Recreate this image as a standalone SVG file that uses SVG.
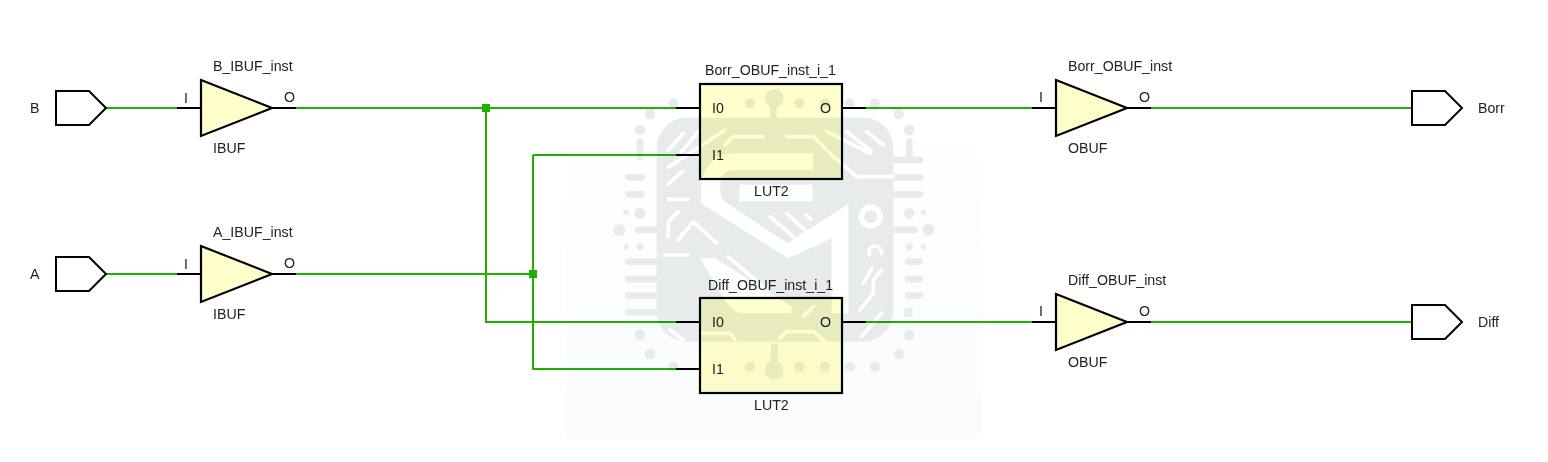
<svg xmlns="http://www.w3.org/2000/svg" width="1548" height="462" viewBox="0 0 1548 462">
<style>
text{font-family:"Liberation Sans",Arial,sans-serif;font-size:14.2px;fill:#222}
.body{fill:#ffffcc;stroke:#000;stroke-width:2.2;stroke-linejoin:miter}
.port{fill:#fff;stroke:#000;stroke-width:2;stroke-linejoin:miter}
.pin{stroke:#000;stroke-width:2;fill:none}
.wire{stroke:#1fb100;stroke-width:2;fill:none}
.dot{fill:#1fb100}
.wm{fill:#e8ebec}
.wl{stroke:#e8ebec;stroke-linecap:round;stroke-linejoin:round;fill:none;stroke-width:20}
.wc{fill:#fff;stroke:none}
.ww{stroke:#fff;stroke-linecap:round;stroke-linejoin:round;fill:none;stroke-width:11}
</style>
<defs>
<linearGradient id="panel" x1="0" y1="0" x2="0" y2="1"><stop offset="0" stop-color="#ffffff"/><stop offset="1" stop-color="#fafbfb"/></linearGradient>
</defs>
<rect width="1548" height="462" fill="#fff"/>
<g id="connectors">
<path class="wire" d="M106 108H177M296 108H676M486 108V322H676M106 274H177M296 274H533M533 155H676M533 155V369H676M866 108H1032M1151 108H1412M866 322H1032M1151 322H1412"/>
<rect class="dot" x="482" y="104" width="8" height="8"/>
<rect class="dot" x="529" y="270" width="8" height="8"/>
</g>
<g id="port-B"><path class="port" d="M56 91H89L106 108L89 125H56Z"/><text x="30" y="113">B</text></g>
<g id="port-A"><path class="port" d="M56 257H89L106 274L89 291H56Z"/><text x="30" y="279">A</text></g>
<g id="B_IBUF_inst">
<path class="pin" d="M177 108H201M272 108H296"/><path class="body" d="M201 80L272 108L201 136Z"/>
<text x="213" y="71">B_IBUF_inst</text><text x="184" y="103">I</text><text x="284" y="102">O</text><text x="213" y="153">IBUF</text>
</g>
<g id="A_IBUF_inst">
<path class="pin" d="M177 274H201M272 274H296"/><path class="body" d="M201 246L272 274L201 302Z"/>
<text x="213" y="237">A_IBUF_inst</text><text x="184" y="269">I</text><text x="284" y="268">O</text><text x="213" y="319">IBUF</text>
</g>
<g id="Borr_OBUF_inst_i_1">
<path class="pin" d="M676 108H700M676 155H700M842 108H866"/><rect class="body" x="700" y="84" width="142" height="95"/>
<text x="705" y="75">Borr_OBUF_inst_i_1</text><text x="712" y="113">I0</text><text x="712" y="160">I1</text><text x="820" y="113">O</text><text x="754" y="196">LUT2</text>
</g>
<g id="Diff_OBUF_inst_i_1">
<path class="pin" d="M676 322H700M676 369H700M842 322H866"/><rect class="body" x="700" y="298" width="142" height="95"/>
<text x="708" y="290">Diff_OBUF_inst_i_1</text><text x="712" y="327">I0</text><text x="712" y="374">I1</text><text x="820" y="327">O</text><text x="754" y="410">LUT2</text>
</g>
<g id="Borr_OBUF_inst">
<path class="pin" d="M1032 108H1056M1127 108H1151"/><path class="body" d="M1056 80L1127 108L1056 136Z"/>
<text x="1068" y="71">Borr_OBUF_inst</text><text x="1039" y="102">I</text><text x="1139" y="102">O</text><text x="1068" y="153">OBUF</text>
</g>
<g id="Diff_OBUF_inst">
<path class="pin" d="M1032 322H1056M1127 322H1151"/><path class="body" d="M1056 294L1127 322L1056 350Z"/>
<text x="1068" y="285">Diff_OBUF_inst</text><text x="1039" y="316">I</text><text x="1139" y="316">O</text><text x="1068" y="367">OBUF</text>
</g>
<g id="port-Borr"><path class="port" d="M1412 91H1445L1462 108L1445 125H1412Z"/><text x="1478" y="113">Borr</text></g>
<g id="port-Diff"><path class="port" d="M1412 305H1445L1462 322L1445 339H1412Z"/><text x="1478" y="327">Diff</text></g>
<g id="watermark" style="mix-blend-mode:multiply">
<rect x="566" y="110" width="416" height="328" fill="url(#panel)"/>
<g transform="translate(600 80) scale(.3333)">
<rect class="wm" x="170" y="113" width="710" height="672" rx="90"/>
<path class="wl" d="M520 60V113M523 800V860M120 185V230M928 185V240M85 292H125M85 343H125M85 545H290M85 597H295M85 647H295M85 697H290M770 240H960M740 292H960M800 343H960M925 545H960M925 597H960M925 647H960M115 450H165M885 450H945"/>
<rect class="wm" x="913" y="685" width="24" height="26"/>
<g class="wm">
<circle cx="523" cy="55" r="28"/><circle cx="523" cy="870" r="28"/>
<circle cx="150" cy="102" r="16"/><circle cx="120" cy="150" r="16"/><circle cx="220" cy="70" r="15"/><circle cx="450" cy="70" r="15"/><circle cx="598" cy="70" r="15"/><circle cx="675" cy="70" r="15"/><circle cx="750" cy="70" r="15"/><circle cx="825" cy="70" r="15"/><circle cx="897" cy="102" r="16"/><circle cx="928" cy="150" r="16"/>
<circle cx="928" cy="400" r="16"/><circle cx="970" cy="397" r="8"/><circle cx="985" cy="450" r="18"/><circle cx="928" cy="500" r="11"/><circle cx="970" cy="500" r="8"/>
<circle cx="58" cy="450" r="18"/><circle cx="78" cy="397" r="8"/><circle cx="120" cy="400" r="17"/><circle cx="78" cy="500" r="8"/><circle cx="120" cy="500" r="10"/>
<circle cx="120" cy="765" r="16"/><circle cx="150" cy="822" r="16"/><circle cx="220" cy="860" r="15"/><circle cx="897" cy="822" r="16"/><circle cx="928" cy="765" r="16"/><circle cx="450" cy="860" r="15"/><circle cx="598" cy="860" r="15"/><circle cx="675" cy="860" r="15"/><circle cx="750" cy="860" r="15"/><circle cx="825" cy="860" r="15"/>
</g>
<path class="wc" d="M640 220H400C340 220 303 270 303 330V370L565 535L695 475V700H745V372L562 490L375 365C358 350 358 310 365 290C372 275 390 270 410 270H640Z"/>
<path class="wc" d="M300 535H345L575 680V700H420C380 690 340 600 300 535Z"/>
<path class="wc" d="M418 314H638V364H418Z"/>
<g class="ww">
<path d="M205 210L250 160M245 215L300 150M205 262L375 150M205 312L250 272M205 358H265M375 195L400 170H490M560 170H640L690 220L770 290H880M680 155L810 220M740 155L815 215M800 155L850 195"/>
<path d="M205 470V425L235 395M235 480L280 425L350 490M245 465L260 450M195 525H265M510 410L580 470M560 400L620 455M620 405L632 418M385 530L500 630M300 760H390L405 780M540 775L560 755H640L680 790M790 610L815 565M780 690L820 640V600L845 570M785 770L845 700M210 750L250 780M610 710L640 680"/>
<circle cx="812" cy="410" r="28" stroke-width="17"/>
<path d="M808 525C800 490 845 490 845 520"/>
</g>
</g>
</g>
</svg>
